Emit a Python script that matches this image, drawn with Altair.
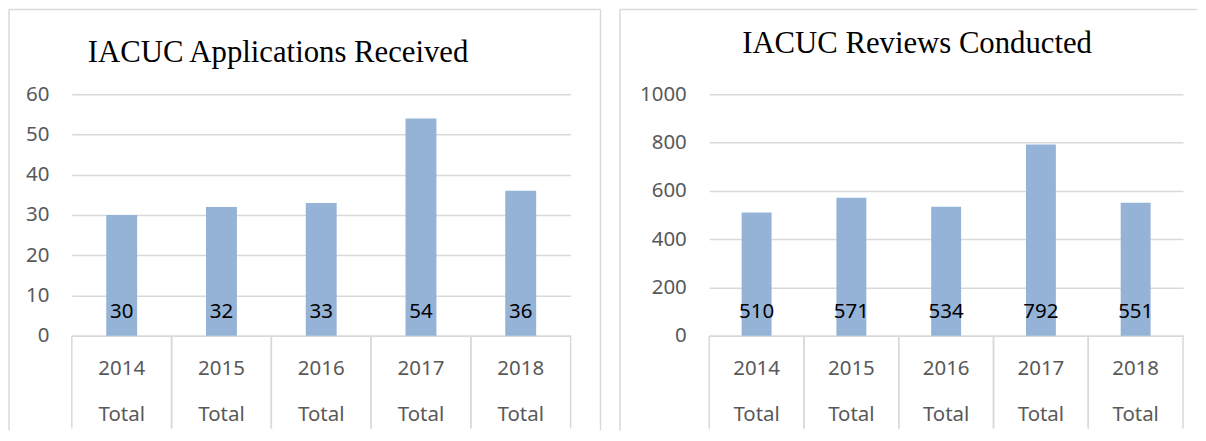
import altair as alt
import pandas as pd

years = ["2014", "2015", "2016", "2017", "2018"]
applications = [30, 32, 33, 54, 36]
reviews = [510, 571, 534, 792, 551]
titles = ["IACUC Applications Received", "IACUC Reviews Conducted"]
sublabel = "Total"
ymax = [60, 1000]
ystep = [10, 200]

BAR = "#95B3D7"
GRID = "#D9D9D9"
LABEL = "#595959"
FONT = "Noto Sans"
FS = 20.5
H = 242


def panel(values, title, dmax, step, w, bar_size, title_dx, title_dy,
          left_ext, right_ext, right_border):
    df = pd.DataFrame({"year": years, "value": values})
    base = alt.Chart(df)
    x = alt.X(
        "year:N", sort=years,
        scale=alt.Scale(paddingInner=0, paddingOuter=0),
        axis=alt.Axis(
            title=None, ticks=False, domain=True, domainColor=GRID,
            domainWidth=1.5, labelExpr=f"[datum.label, '{sublabel}']",
            labelLineHeight=46, labelBaseline="top", labelPadding=23,
            labelFont=FONT, labelFontSize=FS, labelColor=LABEL,
            labelAngle=0, grid=False),
    )
    y = alt.Y(
        "value:Q",
        scale=alt.Scale(domain=[0, dmax], nice=False),
        axis=alt.Axis(
            title=None, values=list(range(0, dmax + 1, step)), ticks=False,
            format="d", domain=False, grid=True, gridColor=GRID,
            gridWidth=1.5, labelFont=FONT, labelFontSize=FS,
            labelColor=LABEL, labelPadding=23),
    )
    bars = base.mark_bar(size=bar_size, color=BAR).encode(x=x, y=y)
    labels = base.mark_text(font=FONT, fontSize=FS, color="black",
                            baseline="middle", dy=-24).encode(
        x=alt.X("year:N", sort=years), y=alt.datum(0), text="value:Q")
    sep0 = base.mark_rule(color=GRID, strokeWidth=1.5).encode(
        x=alt.X("year:N", sort=years, bandPosition=0),
        y=alt.value(H), y2=alt.value(H + 93))
    sep1 = base.mark_rule(color=GRID, strokeWidth=1.5).encode(
        x=alt.X("year:N", sort=years, bandPosition=1),
        y=alt.value(H), y2=alt.value(H + 93))

    one = alt.Chart(pd.DataFrame({"k": [0]}))
    top = one.mark_rule(color=GRID, strokeWidth=1.5).encode(
        x=alt.value(-left_ext), x2=alt.value(w + right_ext), y=alt.value(-85))
    left = one.mark_rule(color=GRID, strokeWidth=1.5).encode(
        x=alt.value(-left_ext), y=alt.value(-85), y2=alt.value(H + 95))
    layers = [bars, labels, sep0, sep1, top, left]
    if right_border:
        right = one.mark_rule(color=GRID, strokeWidth=1.5).encode(
            x=alt.value(w + right_ext), y=alt.value(-85), y2=alt.value(H + 95))
        layers.append(right)

    ttl = alt.Chart(pd.DataFrame({"t": [title]})).mark_text(
        font="Liberation Serif", fontSize=30.8, align="left",
        baseline="alphabetic", color="black").encode(
        text="t:N", x=alt.value(title_dx), y=alt.value(title_dy))
    layers.append(ttl)
    return alt.layer(*layers).properties(width=w, height=H)


left_panel = panel(applications, titles[0], ymax[0], ystep[0], 500, 31,
                   16, -32, 63, 30, True)
right_panel = panel(reviews, titles[1], ymax[1], ystep[1], 475, 30,
                    33, -41, 89.5, 14, False)

chart = alt.hconcat(left_panel, right_panel, spacing=17).properties(
    padding=0).configure_view(stroke=None)

chart.save("out.html", embed_options={"renderer": "svg", "actions": False})
